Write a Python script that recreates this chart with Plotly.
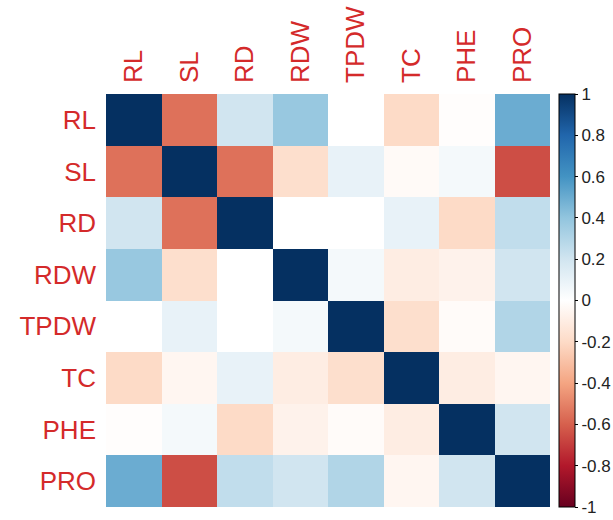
import plotly.graph_objects as go

labels = ["RL", "SL", "RD", "RDW", "TPDW", "TC", "PHE", "PRO"]

row_RL   = [1.00, -0.55, 0.20, 0.38, 0.00, -0.20, -0.01, 0.50]
row_SL   = [-0.55, 1.00, -0.55, -0.18, 0.10, -0.03, 0.05, -0.65]
row_RD   = [0.20, -0.55, 1.00, 0.00, 0.00, 0.10, -0.20, 0.25]
row_RDW  = [0.38, -0.18, 0.00, 1.00, 0.05, -0.10, -0.07, 0.20]
row_TPDW = [0.00, 0.10, 0.00, 0.05, 1.00, -0.18, -0.02, 0.30]
row_TC   = [-0.20, -0.05, 0.10, -0.10, -0.18, 1.00, -0.10, -0.05]
row_PHE  = [-0.01, 0.05, -0.20, -0.07, -0.02, -0.10, 1.00, 0.20]
row_PRO  = [0.50, -0.65, 0.25, 0.20, 0.30, -0.05, 0.20, 1.00]

matrix = [row_RL, row_SL, row_RD, row_RDW, row_TPDW, row_TC, row_PHE, row_PRO]

cbar_vals = [1, 0.8, 0.6, 0.4, 0.2, 0, -0.2, -0.4, -0.6, -0.8, -1]
cbar_text = ["1", "0.8", "0.6", "0.4", "0.2", "0", "-0.2", "-0.4", "-0.6", "-0.8", "-1"]

rdbu = ["#67001F", "#B2182B", "#D6604D", "#F4A582", "#FDDBC7", "#FFFFFF",
        "#D1E5F0", "#92C5DE", "#4393C3", "#2166AC", "#053061"]
colorscale = [[i / (len(rdbu) - 1), c] for i, c in enumerate(rdbu)]

label_color = "#D42A2A"
font_family = "Liberation Sans, Arial, sans-serif"

fig = go.Figure(go.Heatmap(
    z=matrix, x=labels, y=labels,
    zmin=-1, zmax=1, colorscale=colorscale,
    xgap=0, ygap=0,
    colorbar=dict(
        thickness=16, len=1.0, lenmode="fraction",
        x=1.021, xanchor="left", xpad=0, ypad=0,
        y=0.5, yanchor="middle",
        outlinewidth=1, outlinecolor="#000000",
        tickvals=cbar_vals, ticktext=cbar_text,
        ticks="outside", ticklen=3, tickcolor="#000000",
        tickfont=dict(family=font_family, size=17, color="#222222"),
    ),
))

fig.update_layout(
    width=613, height=520,
    margin=dict(l=106, r=63, t=94, b=13, autoexpand=False),
    paper_bgcolor="white", plot_bgcolor="white",
    xaxis=dict(side="top", tickangle=-90, showgrid=False, zeroline=False,
               ticks="", ticklabelstandoff=10,
               tickfont=dict(family=font_family, size=26, color=label_color)),
    yaxis=dict(autorange="reversed", showgrid=False, zeroline=False,
               ticks="", ticklabelstandoff=9,
               tickfont=dict(family=font_family, size=26, color=label_color)),
)

fig.write_html("out.html", config={"displayModeBar": False},
               post_script="document.body.style.margin='0px';")
